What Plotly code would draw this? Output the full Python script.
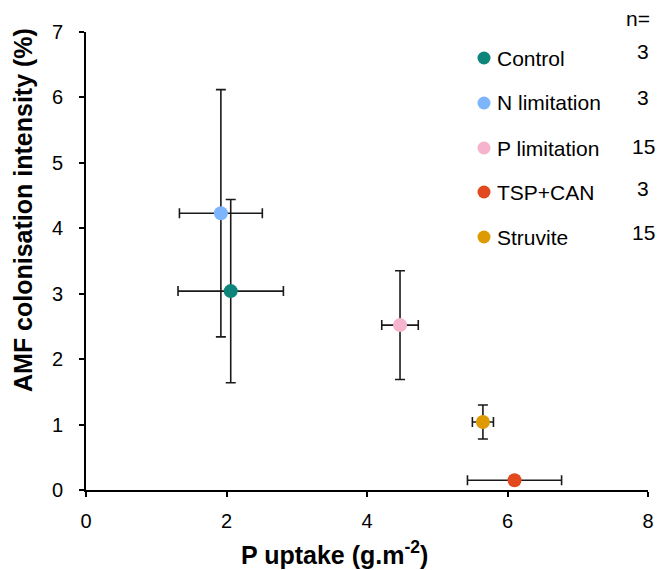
import plotly.graph_objects as go

groups = ["Control", "N limitation", "P limitation", "TSP+CAN", "Struvite"]
n_counts = [3, 3, 15, 3, 15]
p_uptake = [2.06, 1.92, 4.47, 6.10, 5.65]
p_uptake_err = [0.75, 0.59, 0.26, 0.67, 0.15]
amf = [3.04, 4.23, 2.52, 0.15, 1.04]
amf_err = [1.40, 1.89, 0.83, 0.06, 0.26]
colors = ["#0E857B", "#7DB5FC", "#F6B3CE", "#E2491E", "#DE9A05"]

FONT = "Liberation Sans, Arial, sans-serif"
W, H = 672, 570
ML, MR, MT, MB = 86, 24, 32, 80
PW, PH = W - ML - MR, H - MT - MB


def px(xp):
    return (xp - ML) / PW


def py(yp):
    return (H - MB - yp) / PH


fig = go.Figure()
for i, g in enumerate(groups):
    fig.add_trace(go.Scatter(
        x=[p_uptake[i]], y=[amf[i]], mode="markers", name=g,
        marker=dict(color=colors[i], size=14),
        error_x=dict(type="data", array=[p_uptake_err[i]], color="#1a1a1a", thickness=1.6, width=5),
        error_y=dict(type="data", array=[amf_err[i]], color="#1a1a1a", thickness=1.6, width=5),
        showlegend=False,
    ))

# manual legend (markers + labels) and n column
leg_text_y = [58, 103, 148, 192, 237]
n_y = [51, 97, 146, 189, 233]
shapes = []
for i, g in enumerate(groups):
    shapes.append(dict(type="circle", xref="paper", yref="paper",
                       xsizemode="pixel", ysizemode="pixel",
                       xanchor=px(484), yanchor=py(leg_text_y[i]),
                       x0=-6.5, x1=6.5, y0=-6.5, y1=6.5,
                       fillcolor=colors[i], line=dict(width=0)))
    fig.add_annotation(x=px(495), y=py(leg_text_y[i]), xref="paper", yref="paper",
                       text=g, showarrow=False, xanchor="left", yanchor="middle",
                       font=dict(family=FONT, size=21, color="black"))
    fig.add_annotation(x=px(643), y=py(n_y[i]), xref="paper", yref="paper",
                       text=str(n_counts[i]), showarrow=False, xanchor="center", yanchor="middle",
                       font=dict(family=FONT, size=21, color="black"))

fig.add_annotation(x=px(638), y=py(18), xref="paper", yref="paper", text="n=",
                   showarrow=False, xanchor="center", yanchor="middle",
                   font=dict(family=FONT, size=21, color="black"))

# axis titles
fig.add_annotation(x=px(334), y=py(553), xref="paper", yref="paper",
                   text="<b>P uptake (g.m<sup>-2</sup>)</b>", showarrow=False,
                   xanchor="center", yanchor="middle",
                   font=dict(family=FONT, size=25, color="black"))
fig.add_annotation(x=px(23), y=py(210), xref="paper", yref="paper",
                   text="<b>AMF colonisation intensity (%)</b>", showarrow=False,
                   textangle=-90, xanchor="center", yanchor="middle",
                   font=dict(family=FONT, size=25, color="black"))

fig.update_layout(
    width=W, height=H,
    margin=dict(l=ML, r=MR, t=MT, b=MB),
    plot_bgcolor="white", paper_bgcolor="white",
    font=dict(family=FONT, size=20, color="black"),
    showlegend=False,
    shapes=shapes,
    xaxis=dict(range=[0, 8], tickvals=[0, 2, 4, 6, 8], showline=True, linecolor="black",
               linewidth=1.6, ticks="outside", tickcolor="black", ticklen=5, tickwidth=1.6,
               showgrid=False, zeroline=False, ticklabelstandoff=7,
               tickfont=dict(family=FONT, size=20)),
    yaxis=dict(range=[0, 7], tickvals=list(range(8)), showline=True, linecolor="black",
               linewidth=1.6, ticks="outside", tickcolor="black", ticklen=5, tickwidth=1.6,
               showgrid=False, zeroline=False, ticklabelstandoff=12,
               tickfont=dict(family=FONT, size=20)),
)

fig.write_html("out.html")
